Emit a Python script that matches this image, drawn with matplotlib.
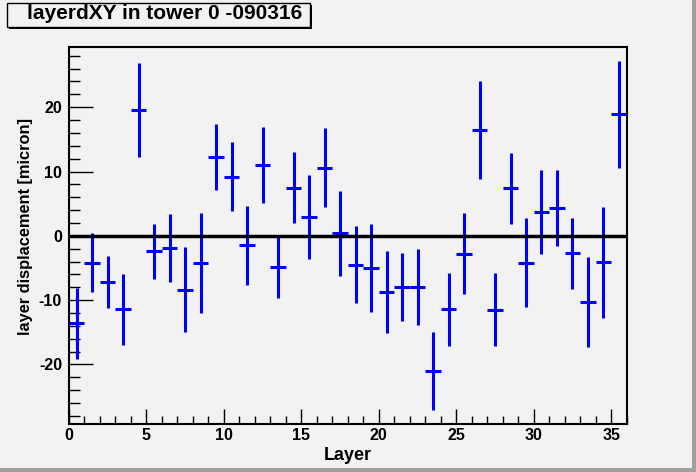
import matplotlib
matplotlib.use("Agg")
import matplotlib.pyplot as plt
import numpy as np
from matplotlib.patches import Rectangle
from matplotlib.ticker import MultipleLocator

layers = np.arange(36) + 0.5
displacement = [-13.6, -4.2, -7.2, -11.4, 19.6, -2.4, -1.9, -8.4, -4.2, 12.3,
                9.2, -1.5, 11.0, -4.8, 7.5, 2.9, 10.6, 0.4, -4.5, -5.0,
                -8.7, -8.0, -8.0, -21.0, -11.4, -2.8, 16.5, -11.5, 7.4, -4.2,
                3.7, 4.3, -2.7, -10.3, -4.1, 18.9]
errors = [5.5, 4.6, 4.0, 5.5, 7.3, 4.3, 5.3, 6.6, 7.8, 5.1,
          5.4, 6.2, 5.9, 4.8, 5.5, 6.5, 6.1, 6.6, 6.0, 6.8,
          6.4, 5.3, 5.9, 6.1, 5.7, 6.3, 7.6, 5.7, 5.5, 6.9,
          6.6, 5.9, 5.5, 7.0, 8.6, 8.3]
title = "layerdXY in tower 0 -090316"

plt.rcParams['font.family'] = ['Liberation Sans', 'DejaVu Sans']
plt.rcParams['font.weight'] = 'bold'
plt.rcParams['axes.unicode_minus'] = False

bg = '#f2f2f2'
fig = plt.figure(figsize=(6.96, 4.72), dpi=100, facecolor=bg)
ax = fig.add_axes([69 / 696, 48 / 472, (626.7 - 69) / 696, (424 - 46.7) / 472])
ax.set_facecolor(bg)

ax.errorbar(layers, displacement, yerr=errors, xerr=0.5, fmt='none',
            ecolor='#0000ff', elinewidth=2.2, capsize=0)
ax.axhline(0, color='black', lw=2.5, zorder=3)

ax.set_xlim(0, 36)
ax.set_ylim(-29.25, 29.4)

ax.xaxis.set_major_locator(MultipleLocator(5))
ax.xaxis.set_minor_locator(MultipleLocator(1))
ax.yaxis.set_major_locator(MultipleLocator(10))
ax.yaxis.set_minor_locator(MultipleLocator(2))
ax.tick_params(axis='both', which='both', direction='in', labelsize=11.5, width=1,
               top=False, right=False)
ax.tick_params(axis='y', which='major', length=17, pad=5)
ax.tick_params(axis='y', which='minor', length=8)
ax.tick_params(axis='x', which='major', length=11, pad=3)
ax.tick_params(axis='x', which='minor', length=6)
for lab in ax.get_xticklabels() + ax.get_yticklabels():
    lab.set_fontweight('bold')
for side in ['top', 'right', 'left', 'bottom']:
    ax.spines[side].set_linewidth(1.5)

ax.set_xlabel('Layer', fontsize=13, fontweight='bold')
ax.set_ylabel('layer displacement [micron]', fontsize=11.8, fontweight='bold')
ax.xaxis.set_label_coords(0.5, -0.062)
ax.yaxis.set_label_coords(-0.0645, 0.523)

# title box with shadow
fig.patches.append(Rectangle((9 / 696, 1 - 29 / 472), 303 / 696, 24 / 472,
                             transform=fig.transFigure, facecolor='black',
                             edgecolor='none', zorder=1))
fig.patches.append(Rectangle((7 / 696, 1 - 27 / 472), 303 / 696, 24 / 472,
                             transform=fig.transFigure, facecolor=bg,
                             edgecolor='black', lw=1, zorder=2))
fig.text(27 / 696, 1 - 13.5 / 472, title, fontsize=15, fontweight='bold',
         va='center', ha='left', zorder=3)

# canvas bevel
fig.patches.append(Rectangle((692 / 696, 0), 4 / 696, 1, transform=fig.transFigure,
                             facecolor='#a0a0a0', edgecolor='none'))
fig.patches.append(Rectangle((0, 0), 1, 4 / 472, transform=fig.transFigure,
                             facecolor='#a0a0a0', edgecolor='none'))

fig.savefig('out.png', dpi=100, facecolor=bg)
